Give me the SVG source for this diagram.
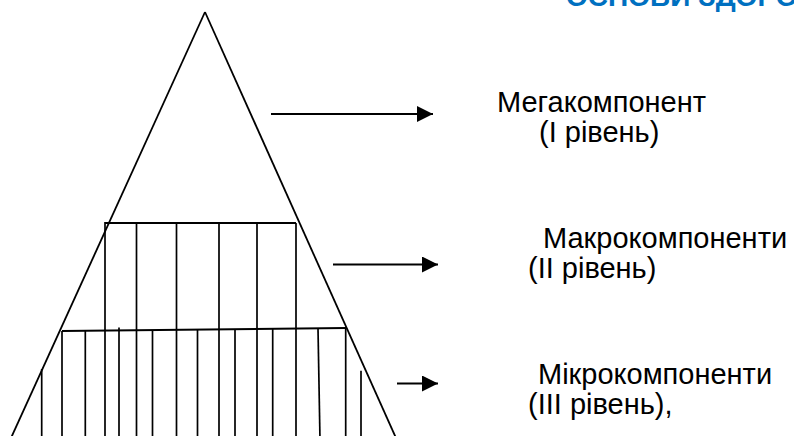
<svg xmlns="http://www.w3.org/2000/svg" width="794" height="436" viewBox="0 0 794 436">
  <style>
    .ln { stroke: #000; stroke-width: 1.7; fill: none; stroke-linecap: butt; }
    .edge { stroke: #000; stroke-width: 1.8; fill: none; }
    .arrow { stroke: #000; stroke-width: 2.2; fill: none; }
    .lbl { font-family: "Liberation Sans", Arial, sans-serif; font-size: 29px; fill: #000; }
    .title { font-family: "Liberation Sans", Arial, sans-serif; font-size: 28px; font-weight: bold; fill: #0070C0; }
  </style>
  <defs>
    <marker id="head" markerUnits="userSpaceOnUse" markerWidth="17" markerHeight="17" refX="16" refY="8" orient="auto">
      <path d="M0,0 L16,8 L0,16 Z" fill="#000"/>
    </marker>
  </defs>
  <rect width="794" height="436" fill="#fff"/>

  <text class="title" x="566" y="5.5">ОСНОВИ ЗДОРОВ'Я</text>

  <g id="pyramid">
    <line class="edge" x1="205" y1="12" x2="11" y2="438"/>
    <line class="edge" x1="205" y1="12" x2="396" y2="438"/>
  </g>

  <g id="macro-block">
    <line class="ln" x1="105" y1="223" x2="296" y2="223" style="stroke-width:2"/>
    <line class="ln" x1="105" y1="222" x2="105" y2="440"/>
    <line class="ln" x1="136.5" y1="223" x2="136.5" y2="440"/>
    <line class="ln" x1="176.5" y1="223" x2="176.5" y2="440"/>
    <line class="ln" x1="219" y1="223" x2="219" y2="440"/>
    <line class="ln" x1="257" y1="223" x2="257" y2="440"/>
    <line class="ln" x1="296" y1="223" x2="296" y2="440"/>
  </g>

  <g id="micro-block">
    <line class="ln" x1="62" y1="331" x2="346" y2="328" style="stroke-width:2"/>
    <line class="ln" x1="62" y1="331" x2="62" y2="440"/>
    <line class="ln" x1="85.3" y1="330.8" x2="85.3" y2="440"/>
    <line class="ln" x1="119" y1="327.5" x2="119" y2="440"/>
    <line class="ln" x1="152.5" y1="330" x2="152.5" y2="440"/>
    <line class="ln" x1="197.5" y1="329.6" x2="197.5" y2="440"/>
    <line class="ln" x1="235" y1="329.2" x2="235" y2="440"/>
    <line class="ln" x1="272.7" y1="328.8" x2="272.7" y2="440"/>
    <line class="ln" x1="318" y1="328.3" x2="320" y2="440"/>
    <line class="ln" x1="345.7" y1="328" x2="345.7" y2="440"/>
    <line class="ln" x1="41.7" y1="369" x2="41.7" y2="440"/>
    <line class="ln" x1="361" y1="370.7" x2="361" y2="440"/>
  </g>

  <g id="connectors">
    <line class="arrow" x1="271" y1="114" x2="433" y2="114" marker-end="url(#head)"/>
    <line class="arrow" x1="333" y1="264.5" x2="438" y2="264.5" marker-end="url(#head)"/>
    <line class="arrow" x1="397" y1="383.5" x2="438" y2="383.5" marker-end="url(#head)"/>
  </g>

  <g id="label-mega">
    <text class="lbl" x="497" y="111.5">Мегакомпонент</text>
    <text class="lbl" x="539" y="141.5">(I рівень)</text>
  </g>
  <g id="label-macro">
    <text class="lbl" x="543" y="247.5">Макрокомпоненти</text>
    <text class="lbl" x="528" y="277.5">(II рівень)</text>
  </g>
  <g id="label-micro">
    <text class="lbl" x="538" y="384">Мікрокомпоненти</text>
    <text class="lbl" x="528" y="414">(III рівень),</text>
  </g>
</svg>
